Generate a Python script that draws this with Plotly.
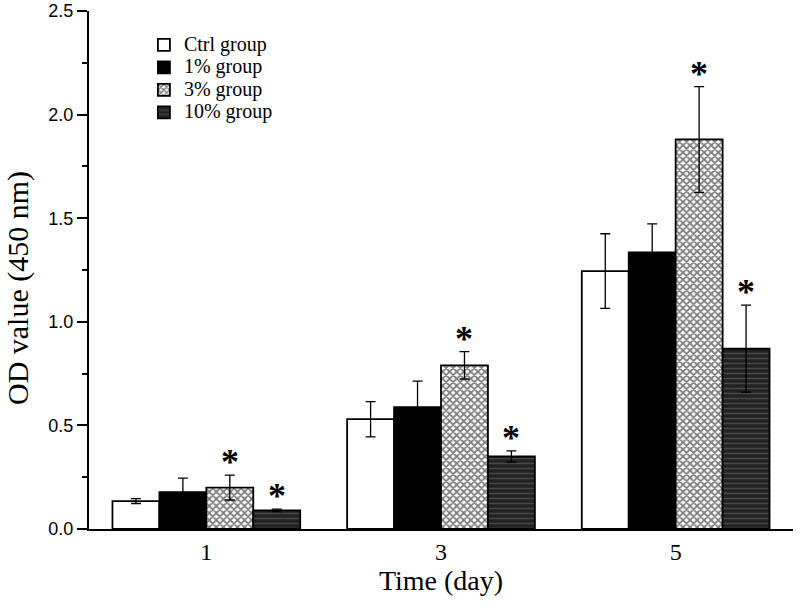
import plotly.graph_objects as go

days = ["1", "3", "5"]
groups = ["Ctrl group", "1% group", "3% group", "10% group"]
means = [
    [0.135, 0.53, 1.245],
    [0.178, 0.588, 1.335],
    [0.2, 0.79, 1.88],
    [0.09, 0.35, 0.87],
]
errs = [
    [0.012, 0.085, 0.18],
    [0.068, 0.126, 0.138],
    [0.06, 0.066, 0.255],
    [0.006, 0.027, 0.21],
]
significant = [False, False, True, True]
y_title = "OD value (450 nm)"
x_title = "Time (day)"

styles = [
    dict(color="white"),
    dict(color="black"),
    dict(color="white", pattern=dict(shape="x", fgcolor="black", bgcolor="white", size=5, solidity=0.6)),
    dict(color="#222222", pattern=dict(shape="-", fgcolor="#6e6e6e", bgcolor="#222222", size=5, solidity=0.3)),
]

SERIF = "Liberation Serif"
SANS = "Liberation Sans"

fig = go.Figure()
for g, m, e, st in zip(groups, means, errs, styles):
    fig.add_trace(go.Bar(
        name="<span style='font-size:20px'>%s</span>" % g, x=days, y=m,
        marker=dict(line=dict(color="black", width=1.8), **st),
        error_y=dict(type="data", array=e, visible=True, color="black", thickness=1.3, width=5),
    ))

bargap = 0.2
n = len(groups)
bw = (1 - bargap) / n
annotations = []
for gi, (m, e, sig) in enumerate(zip(means, errs, significant)):
    if not sig:
        continue
    off = -(1 - bargap) / 2 + bw * (gi + 0.5)
    for di in range(len(days)):
        annotations.append(dict(
            x=di + off, y=m[di] + e[di], xref="x", yref="y",
            text="<b>*</b>", showarrow=False, yanchor="middle", yshift=13,
            font=dict(family=SERIF, size=36, color="black"),
        ))

annotations.append(dict(
    text=y_title, textangle=-90, xref="paper", yref="paper",
    x=-0.101, y=0.465, xanchor="center", yanchor="middle", showarrow=False,
    font=dict(family=SERIF, size=30, color="black"),
))

fig.update_layout(
    width=800, height=606,
    margin=dict(l=89, r=7, t=11, b=77),
    paper_bgcolor="white", plot_bgcolor="white",
    barmode="group", bargap=bargap, bargroupgap=0,
    annotations=annotations,
    legend=dict(
        x=0.078, y=0.966, xanchor="left", yanchor="top",
        font=dict(family=SERIF, size=15, color="black"),
        bgcolor="rgba(0,0,0,0)", tracegroupgap=0, itemwidth=30,
    ),
    xaxis=dict(
        title=dict(text=x_title, font=dict(family=SERIF, size=28, color="black"), standoff=4),
        tickfont=dict(family=SERIF, size=24, color="black"),
        showline=True, linecolor="black", linewidth=2,
        ticks="", showgrid=False, zeroline=False, automargin=False,
        range=[-0.5, 2.5],
    ),
    yaxis=dict(
        tickfont=dict(family=SANS, size=18, color="black"),
        range=[0, 2.5], tickvals=[0, 0.5, 1.0, 1.5, 2.0, 2.5],
        ticktext=["0.0", "0.5", "1.0", "1.5", "2.0", "2.5"],
        showline=True, linecolor="black", linewidth=2,
        ticks="outside", ticklen=10, tickwidth=1.5, tickcolor="black",
        minor=dict(dtick=0.25, tick0=0, ticks="outside", ticklen=5, tickwidth=1.5, tickcolor="black"),
        showgrid=False, zeroline=False, automargin=False,
    ),
)

fig.write_html("out.html", config={"displayModeBar": False},
               post_script="document.body.style.margin='0';")
